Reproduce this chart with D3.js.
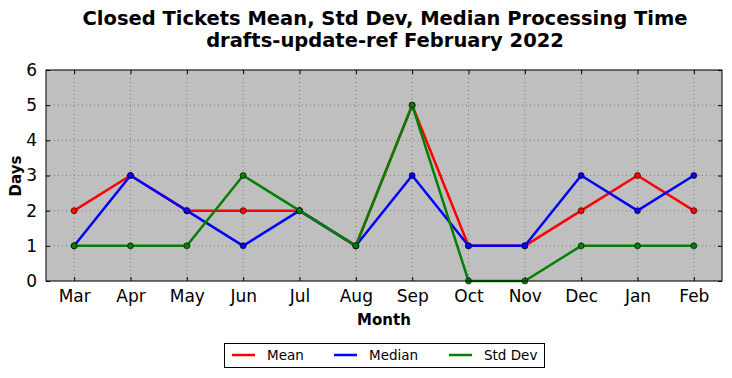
<!DOCTYPE html>
<html><head><meta charset="utf-8">
<script src="https://cdn.jsdelivr.net/npm/d3@7"></script>
<style>body{margin:0;background:#fff}svg{display:block}text{font-family:"DejaVu Sans",sans-serif}</style>
</head><body><svg id="c" width="732" height="378"></svg>
<script>
const months=["Mar","Apr","May","Jun","Jul","Aug","Sep","Oct","Nov","Dec","Jan","Feb"];
const meanVals=[2,3,2,2,2,1,5,1,1,2,3,2];
const medianVals=[1,3,2,1,2,1,3,1,1,3,2,3];
const stdVals=[1,1,1,3,2,1,5,0,0,1,1,1];
const yTicks=[0,1,2,3,4,5,6];
const seriesNames=["Mean","Median","Std Dev"];
const seriesColors=["#ff0000","#0000ff","#008000"];

const svg=d3.select("#c");
const L=46,R=722,T=70,B=281;
const x=d3.scalePoint().domain(months).range([L,R]).padding(0.5);
const y=d3.scaleLinear().domain([0,6]).range([B,T]);

svg.append("rect").attr("x",L).attr("y",T).attr("width",R-L).attr("height",B-T).attr("fill","#bfbfbf");

// grid
const g=svg.append("g");
months.forEach(m=>g.append("line").attr("x1",x(m)).attr("x2",x(m)).attr("y1",T).attr("y2",B).attr("stroke","#6a6a6a").attr("stroke-width",0.8).attr("stroke-dasharray","1,3"));
yTicks.forEach(v=>g.append("line").attr("x1",L).attr("x2",R).attr("y1",y(v)).attr("y2",y(v)).attr("stroke","#6a6a6a").attr("stroke-width",0.8).attr("stroke-dasharray","1,3"));

// axes
const ax=d3.axisBottom(x).tickSizeInner(-4).tickSizeOuter(0).tickPadding(9);
const axg=svg.append("g").attr("transform",`translate(0,${B})`).call(ax);
axg.select(".domain").remove();
axg.selectAll("text").attr("font-size",17).attr("fill","#000").attr("font-family","DejaVu Sans");
const axt=d3.axisTop(x).tickSizeInner(-4).tickSizeOuter(0).tickFormat("");
const axtg=svg.append("g").attr("transform",`translate(0,${T})`).call(axt);axtg.select(".domain").remove();
const ay=d3.axisLeft(y).tickValues(yTicks).tickSizeInner(-4).tickSizeOuter(0).tickPadding(9).tickFormat(d3.format("d"));
const ayg=svg.append("g").attr("transform",`translate(${L},0)`).call(ay);
ayg.select(".domain").remove();
ayg.selectAll("text").attr("font-size",17).attr("fill","#000").attr("font-family","DejaVu Sans");
const ayr=d3.axisRight(y).tickValues(yTicks).tickSizeInner(-4).tickSizeOuter(0).tickFormat("");
const ayrg=svg.append("g").attr("transform",`translate(${R},0)`).call(ayr);ayrg.select(".domain").remove();

// lines
const data=[meanVals,medianVals,stdVals];
const line=d3.line().x((d,i)=>x(months[i])).y(d=>y(d));
data.forEach((vals,k)=>{
  svg.append("path").attr("d",line(vals)).attr("fill","none").attr("stroke",seriesColors[k]).attr("stroke-width",2.5).attr("stroke-linejoin","round");
  vals.forEach((v,i)=>svg.append("circle").attr("cx",x(months[i])).attr("cy",y(v)).attr("r",3).attr("fill",seriesColors[k]).attr("stroke","#000").attr("stroke-width",0.6));
});

svg.append("rect").attr("x",L).attr("y",T).attr("width",R-L).attr("height",B-T).attr("fill","none").attr("stroke","#000").attr("stroke-width",1);

// titles
svg.append("text").attr("x",385).attr("y",25).attr("text-anchor","middle").attr("font-size",19.5).attr("font-weight","bold").text("Closed Tickets Mean, Std Dev, Median Processing Time");
svg.append("text").attr("x",385).attr("y",47).attr("text-anchor","middle").attr("font-size",19.5).attr("font-weight","bold").text("drafts-update-ref February 2022");
svg.append("text").attr("x",384).attr("y",325).attr("text-anchor","middle").attr("font-size",15).attr("font-weight","bold").text("Month");
svg.append("text").attr("transform","translate(21,176) rotate(-90)").attr("text-anchor","middle").attr("font-size",15).attr("font-weight","bold").text("Days");

// legend
svg.append("rect").attr("x",224.5).attr("y",343.5).attr("width",320).attr("height",24).attr("fill","#fff").attr("stroke","#000").attr("stroke-width",1);
const lx=[232,334,449];
seriesNames.forEach((n,k)=>{
  svg.append("line").attr("x1",lx[k]).attr("x2",lx[k]+23).attr("y1",355).attr("y2",355).attr("stroke",seriesColors[k]).attr("stroke-width",2.5);
  svg.append("text").attr("x",lx[k]+35).attr("y",360).attr("font-size",13.5).text(n);
});
</script></body></html>
